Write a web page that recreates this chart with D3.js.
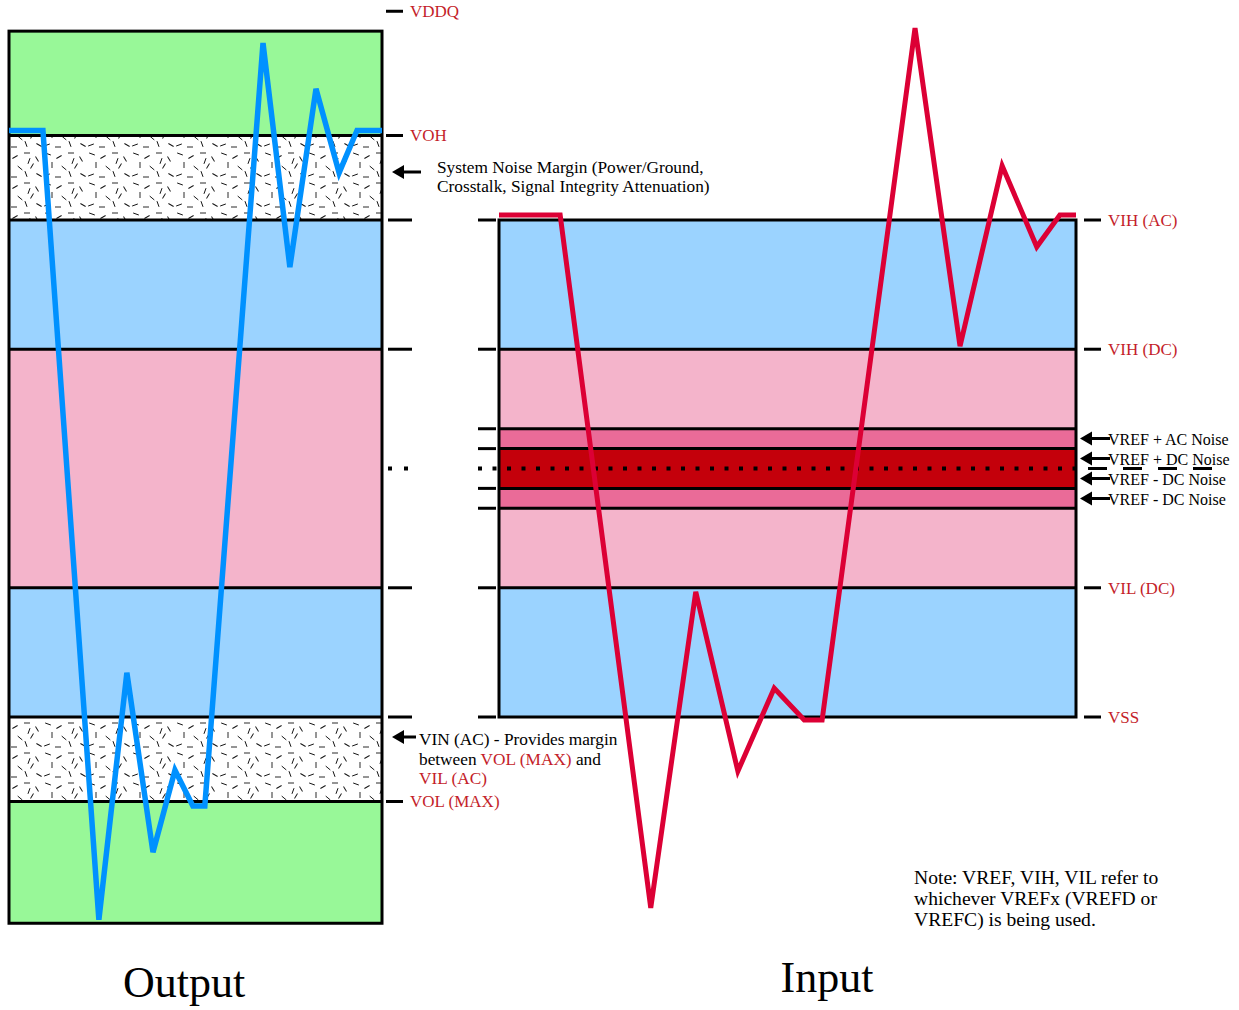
<!DOCTYPE html>
<html lang="en">
<head>
  <meta charset="UTF-8">
  <title>Output / Input noise margins</title>
  <script src="https://d3js.org/d3.v7.min.js"></script>
  <style>
    body { margin: 0; background: #fff; }
    svg { display: block; font-family: "Liberation Serif", "DejaVu Serif", serif; }
  </style>
</head>
<body>
  <div id="chart"></div>

  <script>
    // voltage levels, in relative units (VSS = 0, VIH(AC) = 100)
    const outBounds = [138, 117, 100, 74, 26, 0, -17, -41.5];
    const outZones = ["green", "noise", "blue", "pink", "blue", "noise", "green"];
    const inBounds = [100, 74, 58, 54, 46, 42, 26, 0];
    const inZones = ["blue", "pink", "mid", "dark", "mid", "pink", "blue"];
    const vref = 50;

    const outTicks = [100, 74, 26, 0];
    const inTicks = [100, 74, 58, 54, 46, 42, 26, 0];

    const outLabels = [
      { v: 142, text: "VDDQ" },
      { v: 117, text: "VOH" },
      { v: -17, text: "VOL (MAX)" }
    ];
    const inLabels = [
      { v: 100, text: "VIH (AC)" },
      { v: 74, text: "VIH (DC)" },
      { v: 26, text: "VIL (DC)" },
      { v: 0, text: "VSS" }
    ];
    const vrefLabels = ["VREF + AC Noise", "VREF + DC Noise", "VREF - DC Noise", "VREF - DC Noise"];

    // signals: time (0-100 across each panel) and level
    const outT = [0, 9.1, 24.1, 31.6, 38.6, 44.5, 49.3, 52.5, 68.1, 75.3, 82.3, 88.5, 93.3, 100];
    const outV = [118, 118, -40.8, 8.9, -27.2, -10.7, -17.9, -17.9, 135.6, 90.5, 126.4, 109.5, 118, 118];
    const inT = [0, 10.6, 26.3, 34.1, 41.4, 47.7, 52.9, 56.0, 72.1, 79.9, 87.2, 93.2, 97.2, 100];
    const inV = [101, 101, -38.4, 25.2, -10.9, 5.8, -0.6, -0.6, 138.6, 74.6, 110.9, 94.6, 101, 101];

    const width = 1239, height = 1010;
    const fills = {
      green: "#98f898", blue: "#9bd3ff", pink: "#f4b4cb",
      mid: "#ea6b98", dark: "#c4000b", noise: "url(#noise)"
    };
    const labelRed = "#c41e2a";

    const svg = d3.select("#chart").append("svg")
      .attr("width", width).attr("height", height);

    const y = d3.scaleLinear().domain([0, 100]).range([717, 220]);
    const xOut = d3.scaleLinear().domain([0, 100]).range([9, 382]);
    const xIn = d3.scaleLinear().domain([0, 100]).range([499, 1076]);

    // speckle texture for the noise margin bands
    const defs = svg.append("defs");
    const pat = defs.append("pattern")
      .attr("id", "noise").attr("patternUnits", "userSpaceOnUse")
      .attr("width", 44).attr("height", 30);
    pat.append("rect").attr("width", 44).attr("height", 30).attr("fill", "#fff");
    const specks = [[4, 4, 20], [15, 7, -30], [27, 3, 0], [37, 9, 60], [8, 15, 90], [20, 18, 40],
      [32, 16, -60], [3, 25, -20], [14, 27, 0], [26, 24, 70], [39, 25, 30], [29, 11, 110]];
    pat.selectAll("line").data(specks).enter().append("line")
      .attr("x1", -3).attr("x2", 3).attr("y1", 0).attr("y2", 0)
      .attr("transform", d => `translate(${d[0]},${d[1]}) rotate(${d[2]})`)
      .attr("stroke", "#111").attr("stroke-width", 0.9);

    function panel(x, bounds, zones) {
      const g = svg.append("g");
      const bands = zones.map((z, i) => ({ z, hi: bounds[i], lo: bounds[i + 1] }));
      g.selectAll("rect.band").data(bands).enter().append("rect")
        .attr("x", x(0)).attr("width", x(100) - x(0))
        .attr("y", d => y(d.hi)).attr("height", d => y(d.lo) - y(d.hi))
        .attr("fill", d => fills[d.z]);
      g.selectAll("line.edge").data(bounds.slice(1, -1)).enter().append("line")
        .attr("x1", x(0)).attr("x2", x(100))
        .attr("y1", d => y(d)).attr("y2", d => y(d))
        .attr("stroke", "#000").attr("stroke-width", 3);
      g.append("rect")
        .attr("x", x(0)).attr("width", x(100) - x(0))
        .attr("y", y(bounds[0])).attr("height", y(bounds[bounds.length - 1]) - y(bounds[0]))
        .attr("fill", "none").attr("stroke", "#000").attr("stroke-width", 3);
    }
    panel(xOut, outBounds, outZones);
    panel(xIn, inBounds, inZones);

    // vref dotted line
    svg.append("line").attr("x1", 478).attr("x2", 1076).attr("y1", y(vref)).attr("y2", y(vref))
      .attr("stroke", "#000").attr("stroke-width", 4).attr("stroke-dasharray", "4,10.5");
    svg.append("line").attr("x1", 388).attr("x2", 412).attr("y1", y(vref)).attr("y2", y(vref))
      .attr("stroke", "#000").attr("stroke-width", 4).attr("stroke-dasharray", "4,12");
    svg.append("line").attr("x1", 1088).attr("x2", 1227).attr("y1", y(vref)).attr("y2", y(vref))
      .attr("stroke", "#000").attr("stroke-width", 3).attr("stroke-dasharray", "19,16");

    function ticks(vals, x1, x2) {
      svg.append("g").selectAll("line").data(vals).enter().append("line")
        .attr("x1", x1).attr("x2", x2)
        .attr("y1", d => y(d)).attr("y2", d => y(d))
        .attr("stroke", "#000").attr("stroke-width", 3);
    }
    ticks(outTicks, 388, 412);
    ticks(outLabels.map(d => d.v), 386, 403);
    ticks(inTicks, 478, 496);
    ticks(inLabels.map(d => d.v), 1084, 1101);

    // signals
    const line = x => d3.line().x(d => x(d[0])).y(d => y(d[1]));
    svg.append("path").datum(d3.zip(outT, outV))
      .attr("d", line(xOut)).attr("fill", "none")
      .attr("stroke", "#0091ff").attr("stroke-width", 5.5).attr("stroke-linejoin", "miter");
    svg.append("path").datum(d3.zip(inT, inV))
      .attr("d", line(xIn)).attr("fill", "none")
      .attr("stroke", "#dc0035").attr("stroke-width", 5).attr("stroke-linejoin", "miter");

    // level labels
    svg.append("g").selectAll("text").data(outLabels).enter().append("text")
      .attr("x", 410).attr("y", d => y(d.v)).attr("dy", "0.35em")
      .attr("font-size", 17).attr("fill", labelRed).text(d => d.text);
    svg.append("g").selectAll("text").data(inLabels).enter().append("text")
      .attr("x", 1108).attr("y", d => y(d.v)).attr("dy", "0.35em")
      .attr("font-size", 17).attr("fill", labelRed).text(d => d.text);

    function arrow(x, yy, len) {
      svg.append("line").attr("x1", x + 8).attr("x2", x + len)
        .attr("y1", yy).attr("y2", yy).attr("stroke", "#000").attr("stroke-width", 3);
      svg.append("path").attr("d", `M${x},${yy} l12,-7 l0,14 z`).attr("fill", "#000");
    }
    vrefLabels.forEach((t, i) => {
      const yy = y(vref) + (i - 1.5) * 20;
      arrow(1080, yy, 30);
      svg.append("text").attr("x", 1108).attr("y", yy + 6.5)
        .attr("font-size", 16).attr("fill", "#000").text(t);
    });

    // annotations
    function block(x, y0, lh, size, lines) {
      const t = svg.append("text").attr("font-size", size).attr("fill", "#000");
      lines.forEach((parts, i) => {
        const row = t.append("tspan").attr("x", x).attr("y", y0 + i * lh);
        parts.forEach(p => row.append("tspan").attr("fill", p[1] ? labelRed : null).text(p[0]));
      });
    }
    arrow(392, 172, 29);
    block(437, 173, 19, 17.3, [
      [["System Noise Margin (Power/Ground,"]],
      [["Crosstalk, Signal Integrity Attenuation)"]]
    ]);

    arrow(392, 737, 24);
    block(419, 745, 19.5, 17.3, [
      [["VIN (AC) - Provides margin"]],
      [["between "], ["VOL (MAX)", true], [" and"]],
      [["VIL (AC)", true]]
    ]);

    block(914, 884, 21, 19.6, [
      [["Note: VREF, VIH, VIL refer to"]],
      [["whichever VREFx (VREFD or"]],
      [["VREFC) is being used."]]
    ]);

    svg.append("text").attr("x", 184).attr("y", 997).attr("text-anchor", "middle")
      .attr("font-size", 44).attr("fill", "#000").text("Output");
    svg.append("text").attr("x", 827).attr("y", 992).attr("text-anchor", "middle")
      .attr("font-size", 44).attr("fill", "#000").text("Input");
  </script>
</body>
</html>
